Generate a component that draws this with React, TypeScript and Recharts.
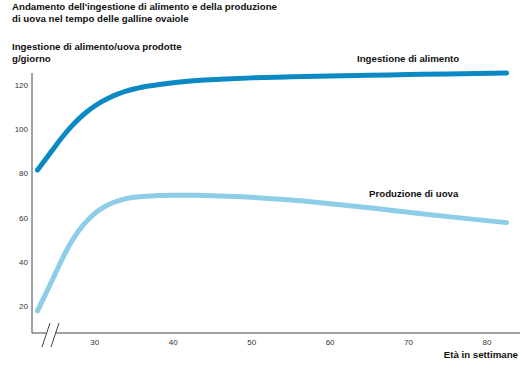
import { LineChart, Line, XAxis, YAxis } from 'recharts'

// weeks of age (x) and values in g/day
const weeks = [22.7, 24, 25, 26, 27, 28, 29, 30, 31, 32, 33, 34, 35, 36, 38, 40, 43, 46, 50, 55, 60, 65, 70, 75, 82.5]
const feedIntake = [81.5, 87.6, 92.4, 97, 101.1, 104.7, 107.8, 110.4, 112.6, 114.4, 115.9, 117.1, 118.1, 118.9, 120, 120.9, 121.9, 122.5, 123.1, 123.6, 124, 124.3, 124.6, 124.9, 125.3]
const eggOutput = [18, 27.5, 35, 42.5, 49, 54.4, 58.6, 61.9, 64.4, 66.3, 67.6, 68.6, 69.2, 69.6, 70, 70.2, 70.2, 69.8, 69.2, 68, 66.3, 64.5, 62.5, 60.5, 57.8]
const xTicks = [30, 40, 50, 60, 70, 80]
const yTicks = [20, 40, 60, 80, 100, 120]

const data = weeks.map((w, i) => ({ week: w, feed: feedIntake[i], eggs: eggOutput[i] }))

const FONT = '"Liberation Sans", Arial, Helvetica, sans-serif'
const bold = { position: 'absolute' as const, fontFamily: FONT, fontWeight: 700, fontSize: 9.7, color: '#111', whiteSpace: 'nowrap' as const, lineHeight: '11px' }

const App = () => {
  return (
    <div style={{ position: 'absolute', left: 0, top: 0, width: 520, height: 367, background: '#fff' }}>
      <LineChart width={520} height={367} data={data} margin={{ top: 73, right: 0, left: 0, bottom: 0 }}>
        <XAxis
          dataKey="week"
          type="number"
          domain={[22, 84.2]}
          ticks={xTicks}
          axisLine={{ stroke: '#444', strokeWidth: 1 }}
          tickLine={false}
          tick={{ fontSize: 8, fill: '#333', fontFamily: FONT }}
          height={34}
          tickMargin={0}
        />
        <YAxis
          type="number"
          domain={[8, 123.6]}
          ticks={yTicks}
          axisLine={{ stroke: '#444', strokeWidth: 1 }}
          tickLine={false}
          tick={{ fontSize: 8, fill: '#333', fontFamily: FONT }}
          width={32}
          tickMargin={0}
          tickSize={4}
        />
        <Line type="monotone" dataKey="feed" stroke="#0a89c4" strokeWidth={5} strokeLinecap="round" dot={false} isAnimationActive={false} />
        <Line type="monotone" dataKey="eggs" stroke="#8dcde8" strokeWidth={5} strokeLinecap="round" dot={false} isAnimationActive={false} />
      </LineChart>

      {/* axis break marks */}
      <svg width={520} height={367} style={{ position: 'absolute', left: 0, top: 0, pointerEvents: 'none' }}>
        <rect x={46} y={331} width={9} height={4} fill="#fff" />
        <line x1={42} y1={347} x2={50} y2={323} stroke="#444" strokeWidth={1} />
        <line x1={51} y1={347} x2={59} y2={323} stroke="#444" strokeWidth={1} />
      </svg>

      <div style={{ ...bold, left: 12, top: 1 }}>Andamento dell'ingestione di alimento e della produzione</div>
      <div style={{ ...bold, left: 12, top: 13 }}>di uova nel tempo delle galline ovaiole</div>
      <div style={{ ...bold, left: 12, top: 41 }}>Ingestione di alimento/uova prodotte</div>
      <div style={{ ...bold, left: 12, top: 53 }}>g/giorno</div>
      <div style={{ ...bold, left: 357, top: 53 }}>Ingestione di alimento</div>
      <div style={{ ...bold, left: 369, top: 188 }}>Produzione di uova</div>
      <div style={{ ...bold, right: 2, top: 349 }}>Età in settimane</div>
    </div>
  )
}

export default App
